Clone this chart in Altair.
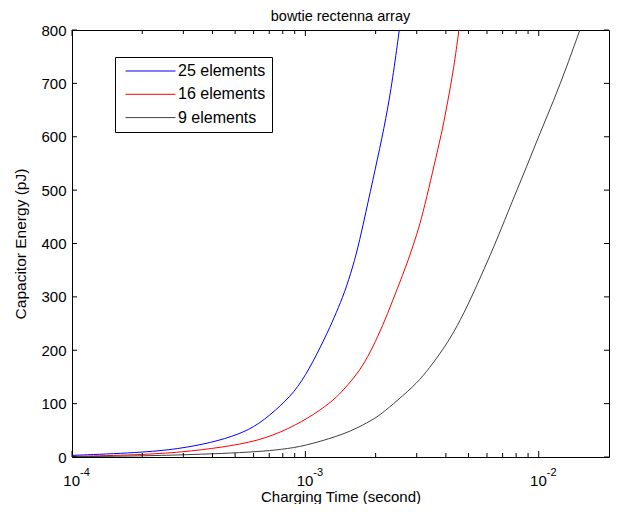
import altair as alt
import pandas as pd

# ---- data ----
t25 = [1e-4, 1.935e-4, 2.86e-4, 3.97e-4, 5.16e-4, 6.28e-4, 7.9e-4, 9.31e-4, 1.079e-3,
       1.25e-3, 1.356e-3, 1.472e-3, 1.597e-3, 1.706e-3, 1.85e-3, 2.041e-3, 2.215e-3,
       2.365e-3, 2.526e-3]
e25 = [3, 8, 15, 27, 42, 60, 97, 130, 178,
       235, 270, 308, 356, 404, 475, 560, 634,
       707, 800]

t16 = [1e-4, 1.935e-4, 2.96e-4, 4.38e-4, 6.28e-4, 8.44e-4, 1.096e-3, 1.334e-3, 1.472e-3,
       1.678e-3, 1.85e-3, 2.041e-3, 2.25e-3, 2.48e-3, 2.737e-3, 3.02e-3, 3.18e-3, 3.45e-3,
       3.68e-3, 3.87e-3, 4.06e-3, 4.33e-3, 4.55e-3]
e16 = [1, 4, 9, 18, 30, 52, 80, 108, 128,
       157, 187, 225, 268, 316, 364, 420, 455, 520,
       573, 615, 662, 730, 800]

t9 = [1e-4, 2e-4, 2.96e-4, 4.38e-4, 6.28e-4, 7.9e-4, 9.93e-4, 1.377e-3, 1.63e-3, 1.91e-3,
      2.11e-3, 2.48e-3, 3.02e-3, 3.39e-3, 3.93e-3, 4.48e-3, 5.1e-3, 5.82e-3, 6.63e-3,
      7.68e-3, 8.9e-3, 1.01e-2, 1.16e-2, 1.32e-2, 1.5e-2]
e9 = [0.5, 2, 4, 6.5, 10, 14, 20.6, 39, 52, 68,
      80, 106, 139, 166, 204, 245, 295, 351, 408,
      478, 545, 606, 668, 732, 800]

series_names = ["25 elements", "16 elements", "9 elements"]
series_colors = ["#0000ff", "#ff0000", "#404040"]

x_decades = [1e-4, 1e-3, 1e-2]
x_base = ["10", "10", "10"]
x_exponents = ["-4", "-3", "-2"]
x_minor = [2e-4, 3e-4, 4e-4, 5e-4, 6e-4, 7e-4, 8e-4, 9e-4,
           2e-3, 3e-3, 4e-3, 5e-3, 6e-3, 7e-3, 8e-3, 9e-3]
y_ticks = [0, 100, 200, 300, 400, 500, 600, 700, 800]

W, H = 537, 427

rows = []
for name, ts, es in zip(series_names, [t25, t16, t9], [e25, e16, e9]):
    for t, e in zip(ts, es):
        rows.append({"t": t, "e": e, "series": name, "order": t})
df = pd.DataFrame(rows)

xscale = alt.Scale(type="log", domain=[1e-4, 2e-2], nice=False)
yscale = alt.Scale(domain=[0, 800], nice=False, zero=False)

xaxis = alt.Axis(values=x_decades, labels=False, ticks=False, domain=False, grid=False,
                 title="Charging Time (second)", titleFontSize=15,
                 titleFontWeight="normal", titlePadding=44, titleBaseline="alphabetic",
                 titleColor="black")
yaxis = alt.Axis(values=y_ticks, ticks=False, domain=False, grid=False,
                 title="Capacitor Energy (pJ)", labelFontSize=15, labelPadding=6,
                 titleFontSize=15.5, titleFontWeight="normal", titlePadding=12,
                 labelColor="black", titleColor="black")

X = lambda: alt.X("t:Q", scale=xscale, axis=xaxis)
Y = lambda: alt.Y("e:Q", scale=yscale, axis=yaxis)

lines = alt.Chart(df).mark_line(strokeWidth=1, clip=True, interpolate="basis").encode(
    x=X(),
    y=Y(),
    color=alt.Color("series:N",
                    scale=alt.Scale(domain=series_names, range=series_colors),
                    legend=alt.Legend(title=None, orient="none", legendX=43, legendY=27,
                                      strokeColor="black", fillColor="white", padding=6,
                                      symbolType="stroke", symbolSize=2500,
                                      symbolStrokeWidth=1, symbolOffset=4,
                                      clipHeight=16, labelFontSize=16, labelOffset=2,
                                      rowPadding=7.3, labelColor="black")),
    order="order:Q",
    detail="series:N",
)

xmaj = pd.DataFrame({"t": x_decades, "base": x_base, "exp": x_exponents})
xmin = pd.DataFrame({"t": x_minor})
yt = pd.DataFrame({"e": y_ticks})


def xtick(data, y0, y1):
    return alt.Chart(data).mark_rule(color="black", strokeWidth=1).encode(
        x=X(), x2=alt.X2("t:Q"), y=alt.value(y0), y2=alt.value(y1))


def ytick(x0, x1):
    return alt.Chart(yt).mark_rule(color="black", strokeWidth=1).encode(
        y=Y(), y2=alt.Y2("e:Q"), x=alt.value(x0), x2=alt.value(x1))


ticks = [
    xtick(xmaj, H, H - 6), xtick(xmaj, 0, 6),
    xtick(xmin, H, H - 4), xtick(xmin, 0, 4),
    ytick(0, 5), ytick(W, W - 5),
]

bases = alt.Chart(xmaj).mark_text(align="right", baseline="alphabetic", fontSize=15,
                                  dx=8, color="black").encode(
    x=X(), y=alt.value(H + 29), text="base:N")
exps = alt.Chart(xmaj).mark_text(align="left", baseline="alphabetic", fontSize=11,
                                 dx=8, color="black").encode(
    x=X(), y=alt.value(H + 19), text="exp:N")

chart = alt.layer(lines, *ticks, bases, exps).properties(
    width=W, height=H,
    title=alt.TitleParams("bowtie rectenna array", fontSize=14.5, fontWeight="normal",
                          offset=1, dy=2, color="black"),
    autosize=alt.AutoSizeParams(type="none"),
    padding={"left": 64, "top": 22, "right": 1, "bottom": 47},
).configure(font="Liberation Sans").configure_view(stroke="black", strokeWidth=1)

chart.save("out.html", embed_options={"renderer": "svg", "actions": False})
